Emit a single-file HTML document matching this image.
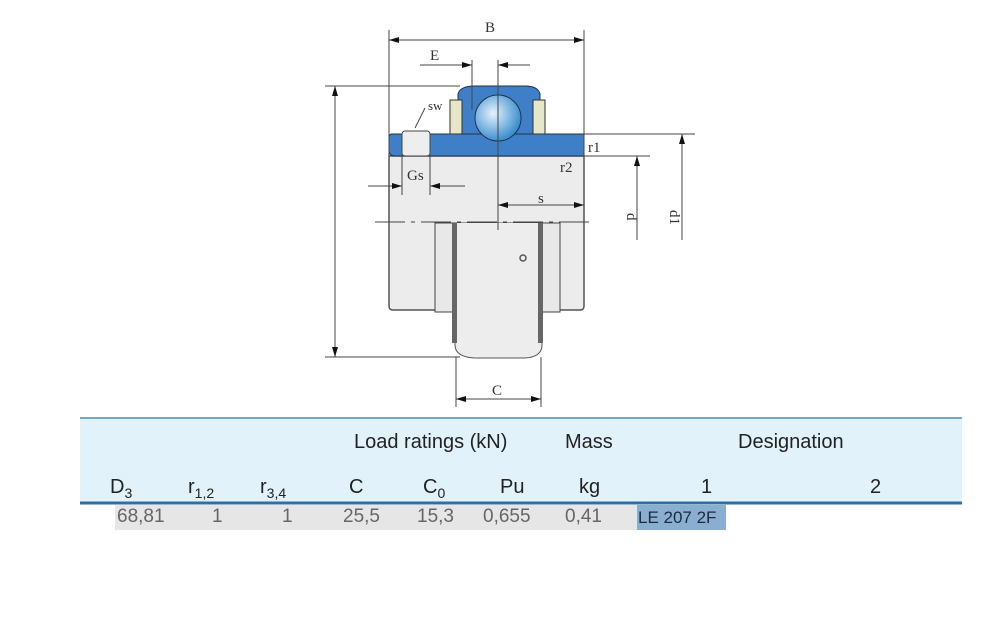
<!DOCTYPE html>
<html><head><meta charset="utf-8"><style>
body{margin:0;background:#fff;width:1000px;height:619px;overflow:hidden;position:relative;font-family:"Liberation Sans",sans-serif}
svg{position:absolute;left:0;top:0}
.t{position:absolute;font-size:20px;color:#222;font-family:"Liberation Sans",sans-serif}
.d{position:absolute;font-size:19px;color:#666;top:506px}
</style></head><body>
<svg width="1000" height="619" viewBox="0 0 1000 619">
<defs>
<radialGradient id="g" cx="0.4" cy="0.4" r="0.6"><stop offset="0" stop-color="#e8f2fb"/><stop offset="1" stop-color="#3b8fd0"/></radialGradient>
<marker id="a" viewBox="0 0 10 6" refX="10" refY="3" markerWidth="10" markerHeight="6" orient="auto-start-reverse"><path d="M0,0L10,3L0,6z" fill="#111"/></marker>
</defs>
<g stroke="#444" stroke-width="1" fill="none">
<path d="M389,156 H584 V306 Q584,310 580,310 H393 Q389,310 389,306Z" fill="#ececec" stroke="#555" stroke-width="1.5"/>
<rect x="435" y="223" width="125" height="89" fill="#e8e8e8"/>
<path d="M455,223 V345 Q455,357 475,358 H525 Q542,357 542,345 V223" fill="#ededed" stroke="#555"/>
<rect x="452" y="223" width="5" height="120" fill="#666" stroke="none"/>
<rect x="538" y="223" width="5" height="120" fill="#666" stroke="none"/>
<path d="M392,134 H584 V156 H395 Q389,156 389,150 V138 Q389,134 392,134Z" fill="#3f7fc8" stroke="#234"/>
<path d="M458,134 V94 Q460,86 475,86 H525 Q538,86 540,94 V134Z" fill="#3f7fc8" stroke="#234"/>
<rect x="450" y="100" width="12" height="34" fill="#e6e6c8" stroke="#333"/>
<rect x="533" y="100" width="12" height="34" fill="#e6e6c8" stroke="#333"/>
<circle cx="498" cy="118" r="23" fill="url(#g)" stroke="#234"/>
<rect x="402" y="131" width="28" height="25" rx="3" fill="#eee" stroke="#444"/>
<circle cx="523" cy="258" r="3" stroke="#555" stroke-width="1.5"/>
<line x1="389" y1="30" x2="389" y2="156"/><line x1="584" y1="30" x2="584" y2="156"/>
<line x1="389" y1="40" x2="584" y2="40" marker-start="url(#a)" marker-end="url(#a)"/>
<line x1="472" y1="60" x2="472" y2="110"/><line x1="498" y1="60" x2="498" y2="230"/>
<line x1="420" y1="65" x2="472" y2="65" marker-end="url(#a)"/><line x1="498" y1="65" x2="530" y2="65" marker-start="url(#a)"/>
<line x1="325" y1="86" x2="460" y2="86"/><line x1="325" y1="357" x2="460" y2="357"/>
<line x1="335" y1="86" x2="335" y2="357" marker-start="url(#a)" marker-end="url(#a)"/>
<line x1="584" y1="134" x2="695" y2="134"/><line x1="584" y1="156" x2="650" y2="156"/>
<line x1="682" y1="134" x2="682" y2="240" marker-start="url(#a)"/>
<line x1="637" y1="156" x2="637" y2="240" marker-start="url(#a)"/>
<line x1="498" y1="205" x2="584" y2="205" marker-start="url(#a)" marker-end="url(#a)"/>
<line x1="368" y1="186" x2="402" y2="186" marker-end="url(#a)"/><line x1="430" y1="186" x2="465" y2="186" marker-start="url(#a)"/>
<line x1="402" y1="156" x2="402" y2="195"/><line x1="430" y1="156" x2="430" y2="195"/>
<line x1="375" y1="222" x2="590" y2="222" stroke-dasharray="30,6,4,6"/>
<line x1="456" y1="357" x2="456" y2="407"/><line x1="541" y1="357" x2="541" y2="407"/>
<line x1="456" y1="399" x2="541" y2="399" marker-start="url(#a)" marker-end="url(#a)"/>
<path d="M425,108 L415,128" />
</g>
<g font-family="Liberation Serif,serif" font-size="15" fill="#333">
<text x="485" y="32">B</text><text x="430" y="60">E</text><text x="428" y="110" font-size="13">sw</text>
<text x="407" y="180">Gs</text><text x="588" y="152">r1</text><text x="560" y="172">r2</text>
<text x="538" y="203">s</text><text x="492" y="395">C</text>
<text x="622" y="218" transform="rotate(90 627 218)">d</text>
<text x="662" y="218" transform="rotate(90 670 218)">d1</text>
</g>
<rect x="80" y="417" width="882" height="86" fill="#e1f2fb"/>
<line x1="80" y1="418" x2="962" y2="418" stroke="#4a8fc0" stroke-width="1.5"/>
<line x1="80" y1="503" x2="962" y2="503" stroke="#2e6fa8" stroke-width="3"/>
<rect x="115" y="505" width="522" height="25" fill="#e6e6e6"/>
<rect x="637" y="505" width="89" height="25" fill="#8aaed0"/>
</svg>
<div class="t" style="left:354px;top:431px">Load ratings (kN)</div>
<div class="t" style="left:565px;top:431px">Mass</div>
<div class="t" style="left:738px;top:431px">Designation</div>
<div class="t" style="left:110px;top:476px">D<sub style="font-size:14px">3</sub></div>
<div class="t" style="left:188px;top:476px">r<sub style="font-size:14px">1,2</sub></div>
<div class="t" style="left:260px;top:476px">r<sub style="font-size:14px">3,4</sub></div>
<div class="t" style="left:349px;top:476px">C</div>
<div class="t" style="left:423px;top:476px">C<sub style="font-size:14px">0</sub></div>
<div class="t" style="left:500px;top:476px">Pu</div>
<div class="t" style="left:579px;top:476px">kg</div>
<div class="t" style="left:701px;top:476px">1</div>
<div class="t" style="left:870px;top:476px">2</div>
<div class="d" style="left:117px">68,81</div>
<div class="d" style="left:212px">1</div>
<div class="d" style="left:282px">1</div>
<div class="d" style="left:343px">25,5</div>
<div class="d" style="left:417px">15,3</div>
<div class="d" style="left:483px">0,655</div>
<div class="d" style="left:565px">0,41</div>
<div class="d" style="left:638px;color:#1a2a40;font-size:17px;top:508px">LE 207 2F</div>
</body></html>
